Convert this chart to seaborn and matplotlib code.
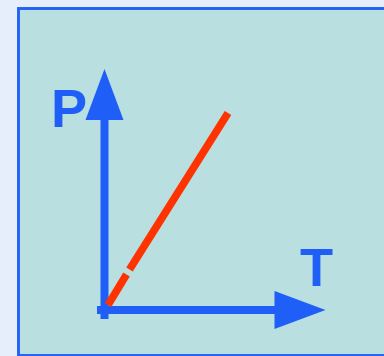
import numpy as np
import pandas as pd
import seaborn as sns
import matplotlib
matplotlib.use('Agg')
from matplotlib import pyplot as plt
from matplotlib.patches import Rectangle

# P-T straight line, drawn in two pieces (small break near the origin)
seg_id = [0, 0, 1, 1]
T_vals = [0.035, 0.22, 0.25, 1.235]
P_vals = [0.05, 0.355, 0.405, 1.97]

# axis extents (arrow tips) and labels
T_axis = [-0.075, 2.21]
P_axis = [-0.09, 2.41]
axis_labels = ['T', 'P']

blue = '#1f5ff7'
red = '#ff3300'

sns.set_style('white')
plt.rcParams['font.family'] = ['Liberation Sans', 'DejaVu Sans']

fig = plt.figure(figsize=(3.84, 3.56), dpi=100, facecolor='#e6eefb')
ax = fig.add_axes([0, 0, 1, 1])

# panel behind the diagram
ax.add_patch(Rectangle((-0.87, -0.45), 3.72, 3.47, facecolor='#b9dfe1',
                       edgecolor='#2262f5', lw=2.1, zorder=0))

# axes arrows
ax.arrow(0, P_axis[0], 0, P_axis[1] - P_axis[0], width=0.08, head_width=0.38,
         head_length=0.51, length_includes_head=True, color=blue, lw=0, zorder=2)
ax.arrow(T_axis[0], 0, T_axis[1] - T_axis[0], 0, width=0.08, head_width=0.38,
         head_length=0.51, length_includes_head=True, color=blue, lw=0, zorder=2)

df = pd.DataFrame({'seg': seg_id, 'T': T_vals, 'P': P_vals})
sns.lineplot(data=df, x='T', y='P', units='seg', estimator=None, sort=False,
             color=red, lw=5.5, solid_capstyle='butt', ax=ax, zorder=3)
ax.set_xlim(-1.045, 2.795)
ax.set_ylim(-0.46, 3.10)
ax.axis('off')

ax.text(2.11, 0.24, axis_labels[0], color=blue, fontsize=39, fontweight='bold',
        ha='center', va='baseline')
ax.text(-0.365, 1.83, axis_labels[1], color=blue, fontsize=39, fontweight='bold',
        ha='center', va='baseline')

fig.savefig('out.png', dpi=100, facecolor=fig.get_facecolor())
